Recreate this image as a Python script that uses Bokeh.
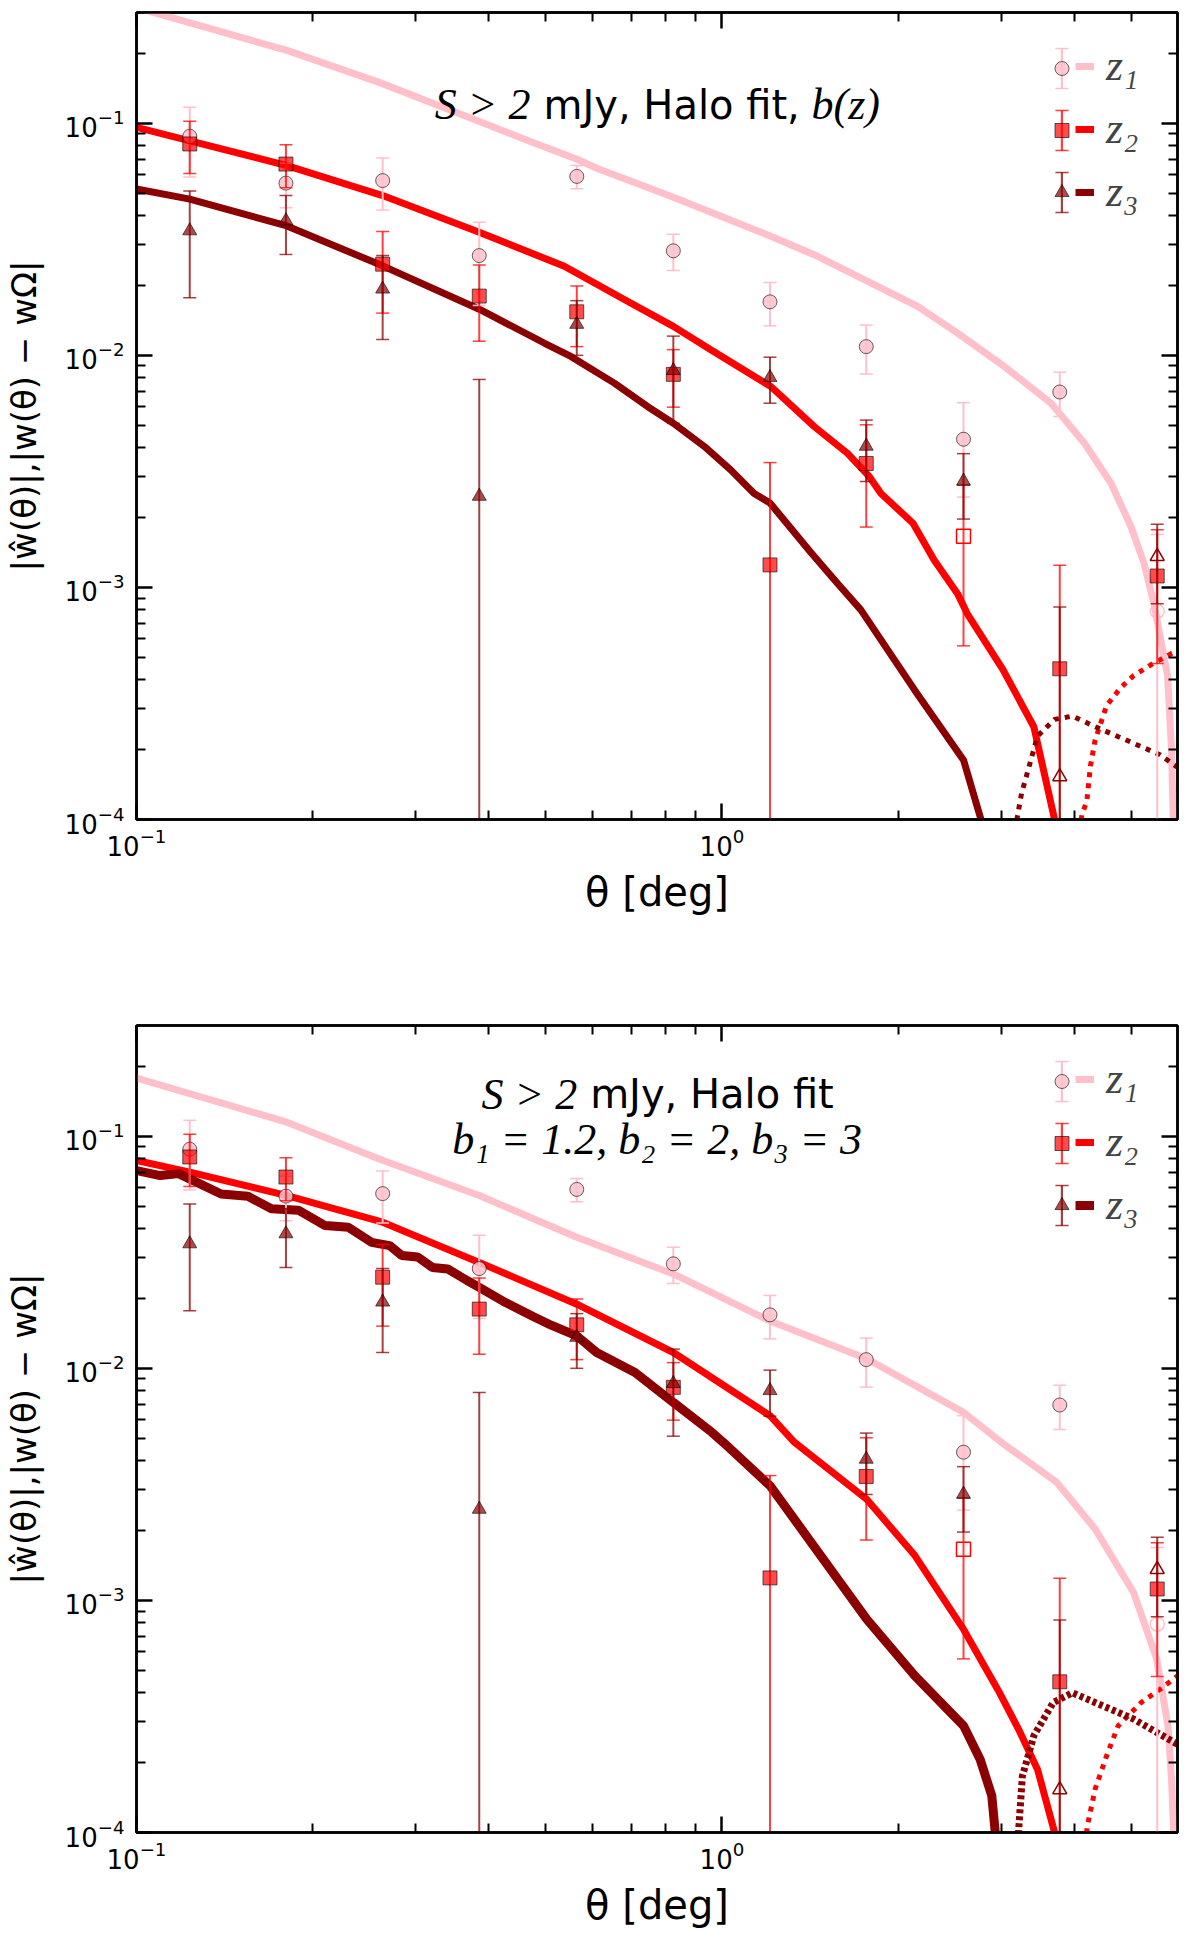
import numpy as np
from bokeh.plotting import figure
from bokeh.layouts import column
from bokeh.models import (Range1d, LogAxis, FixedTicker, Label, Legend, LegendItem,
                          CustomJSTickFormatter)
from bokeh.core.properties import value
from bokeh.embed import file_html
from bokeh.resources import INLINE

# measured |w(theta)| per redshift bin (same measurements in both panels);
# negative values are drawn with open markers
theta = [0.1233, 0.180, 0.2633, 0.385, 0.565, 0.826, 1.208, 1.764, 2.586, 3.776, 5.54]
w_z1 = [0.0879, 0.0552, 0.0566, 0.0269, 0.0590, 0.0282, 0.0170, 0.0109, 0.00435, 0.00695, -0.00079]
err_z1 = [0.0293, 0.012, 0.0143, 0.0105, 0.0068, 0.005, 0.0036, 0.0026, 0.0019, 0.0015, 0.0009]
w_z2 = [0.0814, 0.0667, 0.0247, 0.0180, 0.0154, 0.00828, 0.00125, 0.00342, -0.00166, 0.000446, 0.00112]
err_z2 = [0.0207, 0.014, 0.0095, 0.0065, 0.0045, 0.0023, 0.0022, 0.0016, 0.0011, 0.0008, 0.00065]
w_z3 = [0.0344, 0.0380, 0.0193, 0.00247, 0.0136, 0.0086, 0.00802, 0.00406, 0.00287, -0.000153, -0.00136]
err_z3 = [0.0167, 0.0108, 0.0076, 0.0054, 0.0036, 0.0035, 0.0018, 0.0012, 0.0009, 0.00067, 0.00051]

# model curves, upper panel (Halo fit, b(z)); *_neg = |w| where model is negative
top_z1_th = [0.1, 0.1807, 0.2597, 0.351, 0.4743, 0.567, 0.611, 0.818, 1.212, 1.457, 1.75, 2.159, 2.526,
             3.035, 3.649, 4.162, 4.619, 4.996, 5.26, 5.47, 5.77, 5.86, 5.9, 5.93]
top_z1_w = [0.315, 0.206, 0.150, 0.1115, 0.0828, 0.0698, 0.0640, 0.0485, 0.0326, 0.0267, 0.0212, 0.01626, 0.01247,
            0.00896, 0.00622, 0.00418, 0.00281, 0.00183, 0.00127, 0.00085, 0.000417, 0.0002, 0.0001, 0.00004]
top_z2_th = [0.1, 0.1807, 0.2633, 0.385, 0.538, 0.681, 0.826, 0.957, 1.212, 1.438, 1.639, 1.786, 1.869,
             2.12, 2.305, 2.526, 2.625, 3.02, 3.41, 3.70, 3.74]
top_z2_w = [0.096, 0.0657, 0.0488, 0.0339, 0.0242, 0.0174, 0.01333, 0.01057, 0.00734, 0.00493, 0.00378, 0.0030, 0.00254,
            0.00189, 0.00131, 0.00094, 0.00077, 0.000442, 0.000251, 0.0001, 0.00004]
top_z2_neg_th = [4.06, 4.12, 4.2, 4.26, 4.34, 4.54, 4.8, 5.05, 5.45, 5.87, 6.0]
top_z2_neg_w = [0.00008, 0.000105, 0.00012, 0.00017, 0.00022, 0.00031, 0.00037, 0.000417, 0.00047, 0.00052, 0.00053]
top_z3_th = [0.1, 0.1233, 0.1807, 0.2633, 0.385, 0.497, 0.552, 0.655, 0.746, 0.826, 0.933, 1.035, 1.135, 1.208,
             1.42, 1.576, 1.727, 2.136, 2.587, 2.77, 2.82]
top_z3_w = [0.0521, 0.0471, 0.0361, 0.0243, 0.0158, 0.0113, 0.00989, 0.00759, 0.00602, 0.0051, 0.00405, 0.00321, 0.00254, 0.00231,
            0.00141, 0.00104, 0.0008, 0.00036, 0.00018, 0.0001, 0.00004]
top_z3_neg_th = [3.15, 3.19, 3.25, 3.31, 3.46, 3.7, 3.97, 4.34, 5.05, 5.6, 6.0]
top_z3_neg_w = [0.00008, 0.0001, 0.00013, 0.000153, 0.000229, 0.00027, 0.000279, 0.000251, 0.000213, 0.00019, 0.000168]

# model curves, lower panel (Halo fit, constant bias)
bot_z1_th = [0.1, 0.1807, 0.2597, 0.385, 0.565, 0.826, 1.208, 1.767, 2.587, 3.0, 3.73, 4.34, 5.05, 5.53, 5.78, 5.86, 5.91, 5.94]
bot_z1_w = [0.178, 0.115, 0.0798, 0.0555, 0.0367, 0.0255, 0.016, 0.011, 0.00646, 0.0048, 0.00323, 0.00203, 0.00108, 0.000558, 0.000288, 0.00017, 0.0001, 0.00004]
bot_z2_th = [0.1, 0.1233, 0.1807, 0.2633, 0.385, 0.565, 0.826, 1.208, 1.33, 1.767, 2.136, 2.587, 2.98, 3.21, 3.46, 3.70, 3.74]
bot_z2_w = [0.0786, 0.070, 0.0555, 0.0426, 0.0286, 0.0189, 0.0117, 0.00625, 0.0048, 0.00273, 0.00156, 0.00075, 0.0004, 0.000279, 0.000187, 0.0001, 0.00004]
bot_z2_neg_th = [4.15, 4.21, 4.34, 4.54, 4.75, 5.2, 5.61, 6.0]
bot_z2_neg_w = [0.00008, 0.000107, 0.000154, 0.000214, 0.000288, 0.000363, 0.000415, 0.000473]
bot_z3_th = [0.1, 0.1098, 0.118, 0.1395, 0.155, 0.170, 0.189, 0.210, 0.230, 0.252, 0.2706, 0.2839, 0.302, 0.3204,
             0.34, 0.367, 0.389, 0.427, 0.474, 0.512, 0.565, 0.611, 0.7105, 0.826, 0.961, 1.005, 1.208, 1.42,
             1.767, 2.136, 2.587, 2.76, 2.89, 2.93, 2.96]
bot_z3_w = [0.0711, 0.0677, 0.069, 0.0564, 0.0551, 0.0487, 0.048, 0.0412, 0.0405, 0.0349, 0.0338, 0.0306, 0.0302, 0.0272,
            0.0268, 0.0239, 0.022, 0.0192, 0.0168, 0.0153, 0.0138, 0.0117, 0.0096, 0.00713, 0.0053, 0.0048, 0.00312, 0.00178,
            0.00083, 0.000473, 0.000288, 0.000207, 0.000144, 0.0001, 0.00004]
bot_z3_neg_th = [3.18, 3.21, 3.26, 3.41, 3.68, 3.97, 4.34, 5.05, 6.0]
bot_z3_neg_w = [0.00008, 0.0001, 0.000175, 0.000261, 0.000363, 0.0004, 0.000363, 0.000308, 0.00024]

x_major = [0.1, 1.0]
x_minor = [0.2, 0.3, 0.4, 0.5, 0.6, 0.7, 0.8, 0.9, 2, 3, 4, 5]
y_major = [1e-4, 1e-3, 1e-2, 1e-1]
y_minor = [k * 10.0 ** e for e in (-4, -3, -2, -1) for k in range(2, 10) if k * 10.0 ** e < 0.3]

labels = ["z\u2081", "z\u2082", "z\u2083"]
PINK, RED, DARK = "#FFC0CB", "#FF0000", "#8B0000"
SERIF = "Liberation Serif"
SANS = "DejaVu Sans"

# off-frame anchor for legend-only glyphs (clipped away in the plot itself)
off_x = [x_major[0] / 10]
off_lo = [y_major[0] / 1000]
off_hi = [y_major[0] / 100]


def blank_legend(items, x, y, gw, **kw):
    # legend rows share one pitch (50 px glyph + 12 px spacing)
    return Legend(items=items, location=(x, y), glyph_width=gw, glyph_height=50,
                  label_height=50, spacing=12, padding=0, margin=0,
                  border_line_color=None, background_fill_alpha=0, **kw)


def make_panel(curves, widths, neg_curves, notes, bottom_border):
    p = figure(x_axis_type="log", y_axis_type="log",
               x_range=Range1d(0.1, 6.0), y_range=Range1d(1e-4, 0.3),
               frame_width=1041, frame_height=807,
               min_border_left=131, min_border_right=12, min_border_top=12,
               min_border_bottom=bottom_border,
               output_backend="svg", toolbar_location=None)
    p.grid.visible = False
    p.outline_line_color = "black"
    p.outline_line_width = 2.5
    blank = CustomJSTickFormatter(code="return ''")
    p.add_layout(LogAxis(formatter=blank, major_label_text_font_size="2px",
                         major_label_standoff=0), "above")
    p.add_layout(LogAxis(formatter=blank, major_label_text_font_size="2px",
                         major_label_standoff=0), "right")

    for ax in p.below + p.above:
        ax.ticker = FixedTicker(ticks=x_major, minor_ticks=x_minor)
    for ax in p.left + p.right:
        ax.ticker = FixedTicker(ticks=y_major, minor_ticks=y_minor)
    for ax in p.below + p.above + p.left + p.right:
        ax.major_tick_in = 16
        ax.major_tick_out = 0
        ax.minor_tick_in = 9
        ax.minor_tick_out = 0
        ax.major_tick_line_width = 2.5
        ax.minor_tick_line_width = 2
        ax.axis_line_width = 2.5
        ax.major_label_text_font = SANS
        ax.major_label_text_color = "black"
        ax.axis_label_text_color = "black"

    xa = p.below[0]
    xa.major_label_text_font_size = "26px"
    xa.major_label_standoff = 8
    xa.axis_label = "\u03b8 [deg]"
    xa.axis_label_text_font = SANS
    xa.axis_label_text_font_size = "40px"
    xa.axis_label_text_font_style = "normal"
    xa.axis_label_standoff = 10
    ya = p.left[0]
    ya.major_label_text_font_size = "26px"
    ya.major_label_standoff = 12
    ya.axis_label = "|\u0175(\u03b8)|,|w(\u03b8) \u2212 w\u03a9|"
    ya.axis_label_text_font = SANS
    ya.axis_label_text_font_size = "34px"
    ya.axis_label_text_font_style = "normal"
    ya.axis_label_standoff = 18

    line_rs = []
    for (th, w), col, lw in zip(curves, [PINK, RED, DARK], widths):
        line_rs.append(p.line(th, w, line_color=col, line_width=lw))
    for (th, w), col, lw, dash in neg_curves:
        p.line(th, w, line_color=col, line_width=lw, line_dash=dash)

    mark_rs, bar_rs, cap_rs = [], [], []
    th_arr = np.array(theta)
    series = [(w_z1, err_z1, PINK, "circle", 0.85),
              (w_z2, err_z2, RED, "square", 0.7),
              (w_z3, err_z3, DARK, "triangle", 0.7)]
    for w, e, col, marker, alpha in series:
        w = np.array(w)
        e = np.array(e)
        a = np.abs(w)
        lo = a - e
        hi = a + e
        lo_seg = np.where(lo > 0, lo, 1e-8)
        capped = lo > 0
        bar_alpha = 1.0 if col == PINK else 0.75
        p.segment(x0=th_arr, y0=lo_seg, x1=th_arr, y1=hi, line_color=col,
                  line_alpha=bar_alpha, line_width=2)
        p.scatter(th_arr, hi, marker="dash", size=13, line_color=col,
                  line_alpha=bar_alpha, line_width=1.5)
        p.scatter(th_arr[capped], lo[capped], marker="dash", size=13, line_color=col,
                  line_alpha=bar_alpha, line_width=1.5)
        pos = w > 0
        r = p.scatter(th_arr[pos], a[pos], marker=marker, size=14, fill_color=col,
                      fill_alpha=alpha, line_color="black", line_alpha=0.6, line_width=1)
        p.scatter(th_arr[~pos], a[~pos], marker=marker, size=14, fill_color=None,
                  line_color=col, line_width=1.5)
        mark_rs.append(r)
        # legend-only glyphs for the error-bar symbol
        bar_rs.append(p.vbar(x=off_x, bottom=off_lo, top=off_hi, width=off_x[0] / 10,
                             fill_color=col, fill_alpha=bar_alpha, line_color=None))
        cap_rs.append(p.scatter(x=off_x, y=off_hi, marker="dash", size=13, line_color=col,
                                line_alpha=bar_alpha, line_width=1.5))

    nb = value("\u00a0")
    p.add_layout(blank_legend([LegendItem(label=nb, renderers=[r]) for r in bar_rs],
                              924, 602, 3, label_width=1, label_standoff=0,
                              label_text_font_size="20px"))
    for dy in (20, -20):
        p.add_layout(blank_legend([LegendItem(label=nb, renderers=[r]) for r in cap_rs],
                                  909, 602 + dy, 33, label_width=1, label_standoff=0,
                                  label_text_font_size="20px"))
    p.add_layout(blank_legend([LegendItem(label=nb, renderers=[r]) for r in mark_rs],
                              908, 602, 35, label_width=1, label_standoff=0,
                              label_text_font_size="20px"))
    p.add_layout(blank_legend([LegendItem(label=value(t), renderers=[r])
                               for t, r in zip(labels, line_rs)],
                              939, 602, 19, label_standoff=12, label_text_font=SERIF,
                              label_text_font_style="italic", label_text_font_size="44px"))

    for x, y, text, font, size, style, align, dx in notes:
        p.add_layout(Label(x=x, y=y, text=text, text_font=font, text_font_size=size,
                           text_font_style=style, text_align=align,
                           text_baseline="alphabetic", x_offset=dx, text_color="black"))
    return p


top_curves = [(top_z1_th, top_z1_w), (top_z2_th, top_z2_w), (top_z3_th, top_z3_w)]
bot_curves = [(bot_z1_th, bot_z1_w), (bot_z2_th, bot_z2_w), (bot_z3_th, bot_z3_w)]

top_neg = [((top_z2_neg_th, top_z2_neg_w), RED, 5, "5 6"),
           ((top_z3_neg_th, top_z3_neg_w), DARK, 5, "5 6")]
bot_neg = [((bot_z2_neg_th, bot_z2_neg_w), RED, 5, "5 6"),
           ((bot_z3_neg_th, bot_z3_neg_w), DARK, 7, "4 3")]

top_notes = [(0.773, 0.1202, "S > 2", SERIF, "44px", "italic", "right", -126),
             (0.773, 0.1202, "mJy, Halo fit,", SANS, "40px", "normal", "left", -113),
             (0.773, 0.1202, "b(z)", SERIF, "44px", "italic", "left", 155)]
bot_notes = [(0.775, 0.152, "S > 2", SERIF, "44px", "italic", "right", -80),
             (0.775, 0.152, "mJy, Halo fit", SANS, "40px", "normal", "left", -67),
             (0.775, 0.0972, "b\u2081 = 1.2, b\u2082 = 2, b\u2083 = 3", SERIF, "44px", "italic", "center", 0)]

p_top = make_panel(top_curves, [7, 7, 7], top_neg, top_notes, 194)
p_bot = make_panel(bot_curves, [7, 7, 9], bot_neg, bot_notes, 90)

layout = column(p_top, p_bot)
open("out.html", "w").write(file_html(layout, INLINE))
